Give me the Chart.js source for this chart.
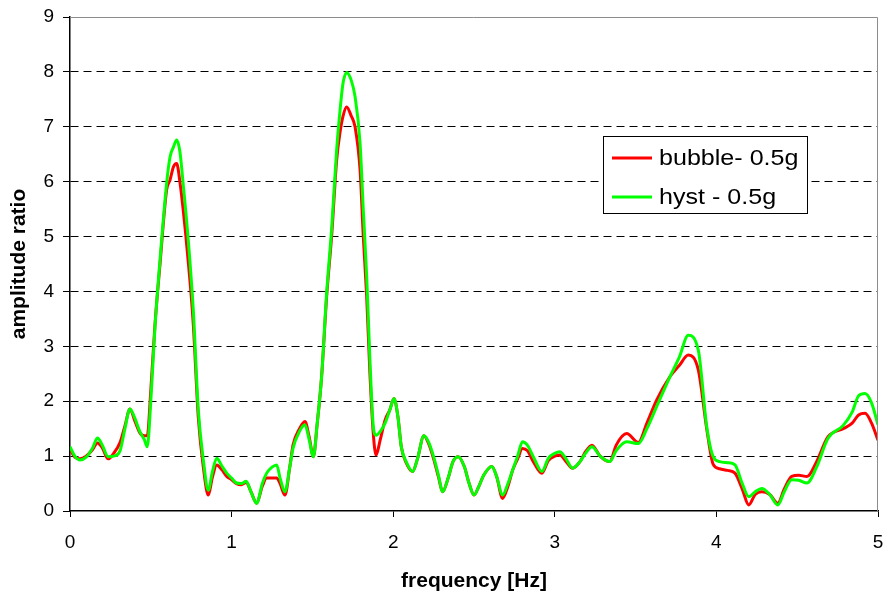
<!DOCTYPE html>
<html>
<head>
<meta charset="utf-8">
<script src="https://cdn.jsdelivr.net/npm/chart.js@4.4.0/dist/chart.umd.min.js"></script>
<style>
  body { margin: 0; background: #fff; }
  canvas { display: block; }
</style>
</head>
<body>
<canvas id="amp-chart" width="883" height="594"></canvas>
<script>
// frequency [Hz] and the two amplitude ratio curves
const freq = [0, 0.03, 0.062, 0.10, 0.14, 0.17, 0.20, 0.236, 0.27, 0.31, 0.34, 0.371, 0.40, 0.433, 0.46, 0.478, 0.50, 0.526, 0.557, 0.598,
  0.619, 0.64, 0.66, 0.68, 0.70, 0.73, 0.763, 0.794, 0.825, 0.856, 0.88, 0.908, 0.94, 0.97, 1.0, 1.03, 1.06, 1.09, 1.12, 1.155,
  1.19, 1.217, 1.25, 1.279, 1.30, 1.33, 1.36, 1.38, 1.42, 1.454, 1.48, 1.506, 1.53, 1.557, 1.588, 1.62, 1.65, 1.671, 1.69, 1.712,
  1.74, 1.764, 1.795, 1.815, 1.836, 1.856, 1.877, 1.894, 1.92, 1.95, 1.98, 2.005, 2.03, 2.05, 2.08, 2.12, 2.15, 2.19, 2.22, 2.25,
  2.28, 2.306, 2.34, 2.37, 2.403, 2.44, 2.47, 2.50, 2.53, 2.56, 2.61, 2.64, 2.677, 2.71, 2.74, 2.77, 2.80, 2.83, 2.867, 2.92,
  2.96, 3.00, 3.03, 3.07, 3.11, 3.156, 3.19, 3.23, 3.28, 3.34, 3.38, 3.445, 3.517, 3.57, 3.63, 3.713, 3.77, 3.826, 3.888, 3.94,
  3.98, 4.02, 4.07, 4.115, 4.16, 4.2, 4.24, 4.28, 4.33, 4.38, 4.42, 4.466, 4.51, 4.56, 4.62, 4.69, 4.785, 4.84, 4.88, 4.92,
  4.96, 5.0];

const bubble = [1.12, 0.98, 0.95, 1.0, 1.12, 1.24, 1.15, 0.95, 1.05, 1.25, 1.55, 1.86, 1.65, 1.42, 1.37, 1.37, 2.2, 3.4, 4.5, 5.85,
  6.03, 6.27, 6.33, 6.0, 5.5, 4.6, 3.4, 1.7, 0.8, 0.29, 0.6, 0.84, 0.75, 0.63, 0.57, 0.5, 0.48, 0.52, 0.35, 0.14,
  0.45, 0.6, 0.6, 0.6, 0.5, 0.29, 0.8, 1.2, 1.5, 1.63, 1.35, 0.99, 1.6, 2.45, 3.9, 5.05, 6.39, 6.9, 7.2, 7.36,
  7.2, 7.0, 6.21, 5.0, 3.9, 2.5, 1.4, 1.02, 1.3, 1.66, 1.85, 2.05, 1.7, 1.17, 0.88, 0.72, 0.95, 1.37, 1.22, 0.95,
  0.62, 0.35, 0.6, 0.9, 0.99, 0.81, 0.5, 0.29, 0.45, 0.65, 0.81, 0.63, 0.23, 0.45, 0.75, 0.95, 1.14, 1.1, 0.9, 0.69,
  0.92, 1.0, 1.02, 0.9, 0.78, 0.9, 1.08, 1.2, 1.0, 0.9, 1.2, 1.41, 1.25, 1.6, 2.02, 2.45, 2.65, 2.84, 2.57, 1.5,
  0.85, 0.77, 0.74, 0.69, 0.4, 0.11, 0.3, 0.35, 0.3, 0.14, 0.4, 0.63, 0.65, 0.63, 0.9, 1.35, 1.5, 1.6, 1.75, 1.78,
  1.6, 1.29];

const hyst = [1.17, 1.0, 0.93, 0.98, 1.15, 1.33, 1.2, 0.99, 1.0, 1.1, 1.5, 1.86, 1.7, 1.44, 1.3, 1.17, 2.0, 3.36, 4.57, 5.97,
  6.45, 6.63, 6.76, 6.55, 5.97, 5.0, 3.66, 1.84, 0.93, 0.38, 0.7, 0.96, 0.82, 0.69, 0.6, 0.51, 0.5, 0.54, 0.35, 0.14,
  0.5, 0.69, 0.8, 0.84, 0.6, 0.35, 0.8, 1.14, 1.45, 1.57, 1.3, 0.99, 1.6, 2.45, 3.96, 5.18, 6.58, 7.3, 7.8, 7.99,
  7.85, 7.55, 6.7, 5.48, 4.27, 2.75, 1.54, 1.38, 1.45, 1.6, 1.85, 2.05, 1.7, 1.17, 0.9, 0.72, 0.95, 1.37, 1.25, 0.99,
  0.65, 0.35, 0.6, 0.9, 0.99, 0.81, 0.5, 0.29, 0.45, 0.65, 0.81, 0.63, 0.29, 0.5, 0.75, 1.0, 1.26, 1.2, 0.99, 0.72,
  0.96, 1.05, 1.08, 0.95, 0.78, 0.9, 1.05, 1.17, 1.0, 0.9, 1.1, 1.26, 1.23, 1.5, 1.9, 2.45, 2.8, 3.2, 2.93, 1.54,
  0.99, 0.9, 0.88, 0.84, 0.5, 0.26, 0.35, 0.41, 0.3, 0.11, 0.35, 0.57, 0.56, 0.51, 0.8, 1.32, 1.56, 1.8, 2.1, 2.14,
  1.97, 1.57];

const seriesNames = ['bubble- 0.5g', 'hyst - 0.5g'];
const seriesColors = ['#ff0000', '#00ff00'];

Chart.defaults.font.family = '"Liberation Sans", Arial, sans-serif';
Chart.defaults.color = '#000';

const toPoints = vals => freq.map((f, i) => ({ x: f, y: vals[i] }));

// gray frame on top/right + boxed legend inside the plot
const framePlugin = {
  id: 'frame',
  afterDraw(chart) {
    const { ctx, chartArea: a } = chart;
    ctx.save();
    ctx.strokeStyle = '#8c8c8c';
    ctx.lineWidth = 1;
    ctx.beginPath();
    ctx.moveTo(a.left, a.top + 0.5);
    ctx.lineTo(a.right - 0.5, a.top + 0.5);
    ctx.lineTo(a.right - 0.5, a.bottom);
    ctx.stroke();

    // legend box
    const bx = 603, by = 136, bw = 204, bh = 77;
    ctx.fillStyle = '#fff';
    ctx.fillRect(bx, by, bw, bh);
    ctx.strokeStyle = '#000';
    ctx.strokeRect(bx + 0.5, by + 0.5, bw, bh);
    const rows = [158, 197];
    ctx.font = '22px "Liberation Sans", Arial, sans-serif';
    ctx.textBaseline = 'middle';
    seriesNames.forEach((name, i) => {
      ctx.strokeStyle = seriesColors[i];
      ctx.lineWidth = 3;
      ctx.beginPath();
      ctx.moveTo(612, rows[i]);
      ctx.lineTo(652, rows[i]);
      ctx.stroke();
      ctx.save();
      ctx.translate(659, rows[i] + 1);
      ctx.scale(1.14, 1);
      ctx.fillStyle = '#000';
      ctx.fillText(name, 0, 0);
      ctx.restore();
    });
    ctx.restore();
  }
};

const ctx = document.getElementById('amp-chart').getContext('2d');
const myChart = new Chart(ctx, {
  type: 'line',
  data: {
    datasets: [{
      label: seriesNames[0],
      data: toPoints(bubble),
      borderColor: seriesColors[0],
      borderWidth: 3,
      pointRadius: 0,
      cubicInterpolationMode: 'monotone',
      order: 1
    }, {
      label: seriesNames[1],
      data: toPoints(hyst),
      borderColor: seriesColors[1],
      borderWidth: 3,
      pointRadius: 0,
      cubicInterpolationMode: 'monotone',
      order: 0
    }]
  },
  options: {
    responsive: false,
    animation: false,
    devicePixelRatio: 1,
    layout: { padding: { top: 17, right: 5, left: 0, bottom: 0 } },
    plugins: {
      legend: { display: false },
      tooltip: { enabled: false }
    },
    scales: {
      x: {
        type: 'linear',
        min: 0,
        max: 5,
        ticks: { stepSize: 1, font: { size: 19 }, padding: 14, maxRotation: 0 },
        grid: { drawOnChartArea: false, tickLength: 6, tickColor: '#000' },
        border: { color: '#000', width: 1.5 },
        title: { display: true, text: 'frequency [Hz]', font: { size: 21, weight: 'bold' }, padding: { top: 2, bottom: 0 } },
        afterFit(scale) {
          scale.height = 83;
          scale.paddingLeft = 0;
          scale.paddingRight = 0;
        }
      },
      y: {
        min: 0,
        max: 9,
        ticks: { stepSize: 1, font: { size: 19 }, padding: 9 },
        grid: {
          color: c => (c.tick.value === 0 || c.tick.value === 9) ? 'rgba(0,0,0,0)' : '#000',
          tickColor: '#000',
          tickLength: 7
        },
        border: { color: '#000', width: 1.5, dash: [8, 5] },
        title: { display: true, text: 'amplitude ratio', font: { size: 21, weight: 'bold' }, padding: { top: 7, bottom: 0 } },
        afterFit(scale) {
          scale.width = 70;
          scale.paddingTop = 0;
          scale.paddingBottom = 0;
        }
      }
    }
  },
  plugins: [framePlugin]
});
</script>
</body>
</html>
